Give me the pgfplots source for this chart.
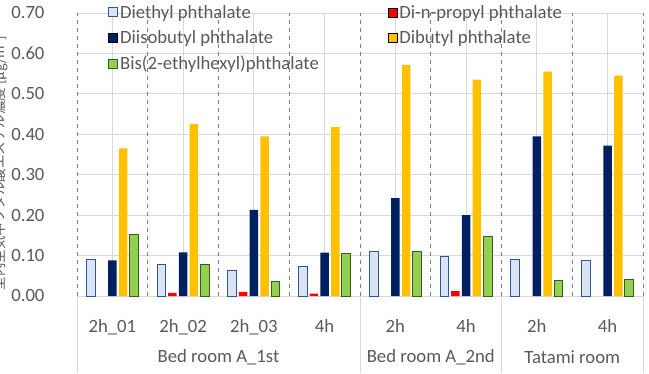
\documentclass[border=0pt]{standalone}
\usepackage{pgfplots}
\pgfplotsset{compat=1.18}
\usepackage{fontspec}
\setmainfont{Carlito}
\newfontfamily\cjk{Noto Sans CJK JP}
\definecolor{txt}{HTML}{595959}
\definecolor{gridc}{HTML}{D9D9D9}
\definecolor{dep}{HTML}{DAE3F3}
\definecolor{depb}{HTML}{2F5597}
\definecolor{dnpp}{HTML}{FF0000}
\definecolor{dibp}{HTML}{002060}
\definecolor{dbp}{HTML}{FFC000}
\definecolor{dehp}{HTML}{92D050}
\definecolor{dehpb}{HTML}{3A5A1E}
\definecolor{dashc}{HTML}{808080}
\newcommand{\bigf}{\fontsize{18.7}{22}\selectfont}
\begin{document}
\begin{tikzpicture}[x=1pt,y=1pt]
\useasboundingbox (0,0) rectangle (649,373);
\begin{axis}[
  at={(77pt,77pt)}, anchor=south west,
  scale only axis, width=566pt, height=283pt,
  font=\bigf,
  ybar, bar width=8.6pt,
  xmin=-0.5, xmax=7.5, ymin=0, ymax=0.70,
  xtick={0,...,7},
  xticklabels={2h\_01,2h\_02,2h\_03,4h,2h,4h,2h,4h},
  x tick label style={yshift=-20pt, text=txt, font=\bigf},
  ytick={0,0.1,...,0.7},
  y tick label style={text=txt, font=\bigf, anchor=east, xshift=-29pt, /pgf/number format/fixed, /pgf/number format/fixed zerofill, /pgf/number format/precision=2},
  /pgf/number format/assume math mode=true,
  major tick length=0pt,
  ymajorgrids, xmajorgrids,
  major grid style={gridc, line width=0.8pt},
  axis line style={draw=none},
  clip=false,
  legend columns=2,
  legend cell align=left,
  legend style={at={(28pt,295pt)}, anchor=north west, draw=none, fill=none,
    text=txt, font=\bigf, nodes={font=\bigf, text=txt},
    row sep=7pt,
    /tikz/every even column/.append style={column sep=67pt}},
  legend image code/.code={\draw[#1, bar shift=0pt] (0pt,-4.5pt) rectangle (9pt,4.5pt);},
]
% category separators and dashed boundaries (decoration)
\pgfplotsinvokeforeach{-0.5,0.5,1.5,2.5,3.5,4.5,5.5,6.5,7.5}{
  \draw[dashc, line width=0.9pt, dash pattern=on 4.5pt off 3.5pt] (axis cs:#1,0) -- (axis cs:#1,0.70);
}
\draw[gridc, line width=0.8pt] (axis cs:-0.5,0) -- (axis cs:7.5,0);
\pgfplotsinvokeforeach{-0.5,3.5,5.5,7.5}{
  \draw[gridc, line width=0.8pt] (axis cs:#1,0) -- ([yshift=-77pt]axis cs:#1,0);
}
\addplot[fill=dep, draw=depb, line width=1pt, bar shift=-21.6pt] coordinates {
 (0,0.090) (1,0.078) (2,0.062) (3,0.074) (4,0.109) (5,0.098) (6,0.090) (7,0.087)};
\addplot[fill=dnpp, draw=none, bar shift=-10.8pt] coordinates {
 (1,0.008) (2,0.010) (3,0.006) (5,0.012)};
\addplot[fill=dibp, draw=none, bar shift=0pt] coordinates {
 (0,0.088) (1,0.108) (2,0.213) (3,0.107) (4,0.242) (5,0.200) (6,0.395) (7,0.372)};
\addplot[fill=dbp, draw=none, bar shift=10.8pt] coordinates {
 (0,0.365) (1,0.425) (2,0.395) (3,0.418) (4,0.572) (5,0.535) (6,0.555) (7,0.545)};
\addplot[fill=dehp, draw=dehpb, line width=1pt, bar shift=21.6pt] coordinates {
 (0,0.153) (1,0.077) (2,0.036) (3,0.105) (4,0.110) (5,0.147) (6,0.038) (7,0.042)};
\legend{Diethyl phthalate, Di-n-propyl phthalate, Diisobutyl phthalate, Dibutyl phthalate, Bis(2-ethylhexyl)phthalate}
\node[text=txt, font=\bigf] at (axis cs:1.5,0) [yshift=-61pt] {Bed room A\_1st};
\node[text=txt, font=\bigf] at (axis cs:4.5,0) [yshift=-61pt] {Bed room A\_2nd};
\node[text=txt, font=\bigf] at (axis cs:6.5,0) [yshift=-61pt] {Tatami room};
\end{axis}
\node[overlay, rotate=90, text=txt, font=\cjk\fontsize{13.5}{16}\selectfont] at (0pt,210pt) {室内空気中フタル酸エステル濃度 [μg/m³]};
\end{tikzpicture}
\end{document}
